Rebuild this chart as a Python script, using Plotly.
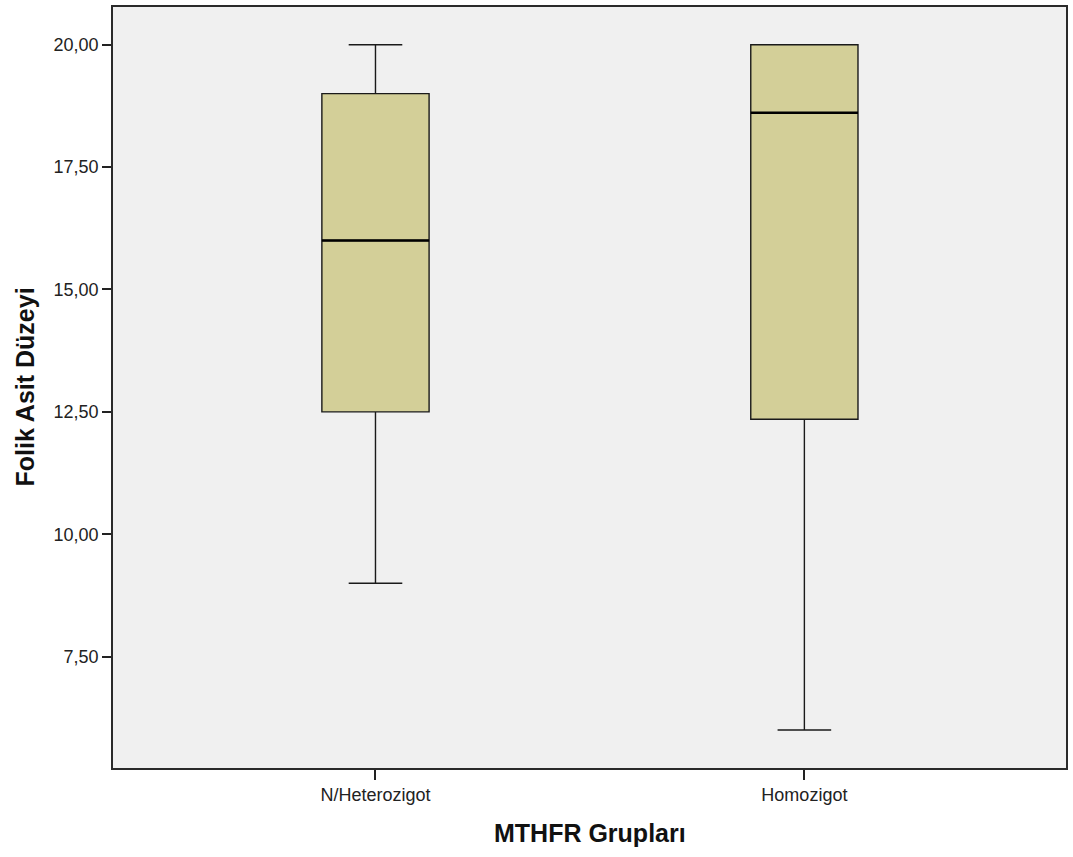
import plotly.graph_objects as go

categories = ["N/Heterozigot", "Homozigot"]
lower_whisker = [9.0, 6.0]
q1_values = [12.5, 12.35]
median_values = [16.0, 18.61]
q3_values = [19.0, 20.0]
upper_whisker = [20.0, 20.0]
y_ticks = [7.5, 10.0, 12.5, 15.0, 17.5, 20.0]

BOX_WIDTH = 0.25
FILL = "#D3CF98"
FONT = "Liberation Sans, Arial, sans-serif"

fig = go.Figure()
for i, cat in enumerate(categories):
    fig.add_trace(go.Box(
        x=[i], q1=[q1_values[i]], median=[median_values[i]], q3=[q3_values[i]],
        lowerfence=[lower_whisker[i]], upperfence=[upper_whisker[i]],
        name=cat, width=BOX_WIDTH, whiskerwidth=0.5,
        fillcolor=FILL, line=dict(color="#1a1a1a", width=1.4),
        boxpoints=False, hoverinfo="skip", showlegend=False,
    ))
    fig.add_trace(go.Scatter(
        x=[i - BOX_WIDTH / 2, i + BOX_WIDTH / 2],
        y=[median_values[i], median_values[i]],
        mode="lines", line=dict(color="black", width=2.6),
        hoverinfo="skip", showlegend=False,
    ))

fig.update_layout(
    width=1073, height=857,
    margin=dict(l=113, r=7, t=5, b=89),
    paper_bgcolor="white", plot_bgcolor="#F0F0F0",
    separators=",.",
    font=dict(family=FONT, size=18, color="#222222"),
    xaxis=dict(
        range=[-0.612, 1.61], tickmode="array", tickvals=list(range(len(categories))),
        ticktext=categories, ticks="outside", ticklen=10, tickwidth=1.5, tickcolor="#222",
        showline=True, linecolor="#2a2a2a", linewidth=1.6, mirror=True,
        showgrid=False, zeroline=False, tickfont=dict(size=18, color="#222"),
    ),
    yaxis=dict(
        range=[5.225, 20.77], tickmode="array", tickvals=y_ticks, tickformat=".2f",
        ticks="outside", ticklen=9, tickwidth=1.5, tickcolor="#222",
        showline=True, linecolor="#2a2a2a", linewidth=1.6, mirror=True,
        showgrid=False, zeroline=False, tickfont=dict(size=18, color="#222"),
    ),
    annotations=[
        dict(text="<b>MTHFR Grupları</b>", xref="paper", yref="paper",
             x=0.5, y=-65 / 763, xanchor="center", yanchor="middle",
             showarrow=False, font=dict(size=25, color="#111", family=FONT)),
        dict(text="<b>Folik Asit Düzeyi</b>", xref="paper", yref="paper",
             x=(24 - 113) / 953, y=0.5, xanchor="center", yanchor="middle",
             textangle=-90, showarrow=False, font=dict(size=25, color="#111", family=FONT)),
    ],
)

fig.write_html("out.html", config={"displayModeBar": False},
               post_script="document.body.style.margin='0';document.body.style.padding='0';")
